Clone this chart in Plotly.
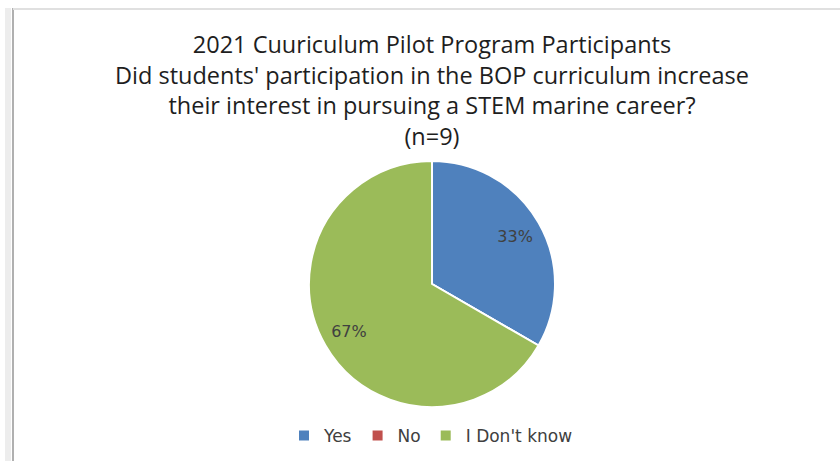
import plotly.graph_objects as go

categories = ["Yes", "No", "I Don't know"]
counts = [3, 0, 6]
colors = ["#4F81BD", "#C0504D", "#9BBB59"]
title_lines = [
    "2021 Cuuriculum Pilot Program Participants",
    "Did students' participation in the BOP curriculum increase",
    "their interest in pursuing a STEM marine career?",
    "(n=9)",
]

W, H = 840, 461
cx, cy, d = 432, 284, 246
dom = dict(x=[(cx - d / 2) / W, (cx + d / 2) / W],
           y=[1 - (cy + d / 2) / H, 1 - (cy - d / 2) / H])
label_font = dict(family="DejaVu Sans, Verdana, sans-serif", size=16, color="#404040")
legend_font = dict(family="DejaVu Sans, Verdana, sans-serif", size=17, color="#404040")

fig = go.Figure()
# coloured slices
fig.add_trace(go.Pie(
    labels=categories,
    values=counts,
    sort=False,
    direction="clockwise",
    rotation=0,
    marker=dict(colors=colors, line=dict(color="white", width=2)),
    textinfo="none",
    domain=dom,
    hoverinfo="label+percent",
))
# transparent ring carrying the percentage labels further out (Excel style)
fig.add_trace(go.Pie(
    labels=categories,
    values=counts,
    sort=False,
    direction="clockwise",
    rotation=0,
    hole=0.56,
    marker=dict(colors=["rgba(0,0,0,0)"] * len(categories), line=dict(width=0)),
    texttemplate="%{percent:.0%}",
    textposition="inside",
    insidetextorientation="horizontal",
    textfont=label_font,
    domain=dom,
    showlegend=False,
    hoverinfo="skip",
))

fig.update_layout(
    width=W, height=H,
    margin=dict(l=0, r=0, t=0, b=0),
    paper_bgcolor="white",
    plot_bgcolor="white",
    showlegend=True,
    legend=dict(orientation="h", x=431 / W, xanchor="center", y=1 - 436 / H, yanchor="middle",
                font=legend_font, itemwidth=30, traceorder="normal"),
    annotations=[dict(
        text="<br>".join(title_lines), x=432 / W, y=1 - 90 / H, xref="paper", yref="paper",
        xanchor="center", yanchor="middle", showarrow=False, align="center",
        font=dict(family="Open Sans, sans-serif", size=23.5, color="#1e1e1e"),
    )],
    shapes=[
        dict(type="line", xref="paper", yref="paper", x0=8 / W, x1=8 / W, y0=0, y1=1 - 8 / H,
             line=dict(color="#ededed", width=6)),
        dict(type="line", xref="paper", yref="paper", x0=13 / W, x1=13 / W, y0=0, y1=1 - 8 / H,
             line=dict(color="#b0b0b0", width=2)),
        dict(type="line", xref="paper", yref="paper", x0=13 / W, x1=1, y0=1 - 9 / H, y1=1 - 9 / H,
             line=dict(color="#e0e0e0", width=2)),
    ],
)

fig.write_html(
    "out.html",
    config={"displayModeBar": False},
    post_script="document.body.style.margin='0';document.body.style.overflow='hidden';",
)
